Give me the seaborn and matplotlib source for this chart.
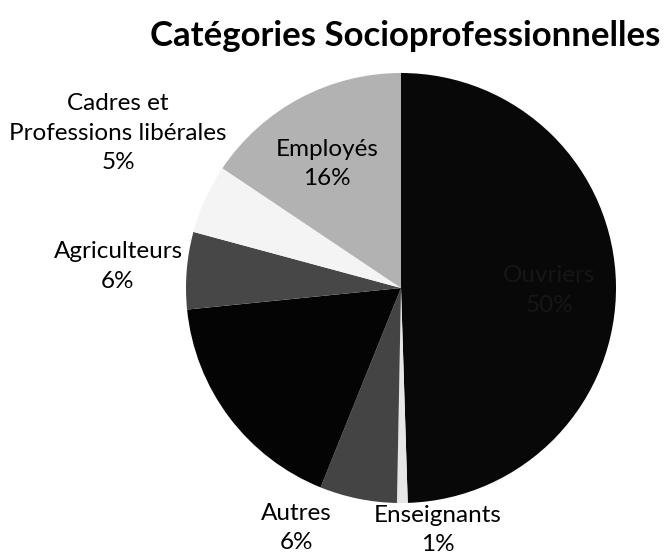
import numpy as np
import seaborn as sns
import matplotlib.pyplot as plt

# Slices, clockwise from 12 o'clock
categories = ['Ouvriers', 'Enseignants', 'Autres', 'Retraités',
              'Agriculteurs', 'Cadres et\nProfessions libérales', 'Employés']
shares = [49.5, 0.8, 5.8, 17.3, 5.8, 5.2, 15.6]
colors = ['#080808', '#e6e6e6', '#444444', '#040404', '#474747', '#f4f4f4', '#b2b2b2']

# label placement: (angle in deg, distance from centre in radii) and text colour
label_pos = [(-1, 0.69, '#161616'), (278.7, 1.139, 'black'), (246.4, 1.218, 'black'),
             (216, 0.65, '#040404'), (175.7, 1.32, 'black'), (151.3, 1.50, 'black'),
             (120.8, 0.672, 'black')]

sns.set_theme(style='white')
plt.rcParams['font.family'] = ['Lato', 'DejaVu Sans']

W, H = 667, 554
fig = plt.figure(figsize=(W / 100, H / 100), dpi=100)
cx, cy, r = 401, 288, 215
ax = fig.add_axes([(cx - r) / W, (H - cy - r) / H, 2 * r / W, 2 * r / H])

wedges, _ = ax.pie(shares, colors=colors, startangle=90, counterclock=False,
                   radius=1, wedgeprops=dict(linewidth=0))
ax.set_xlim(-1, 1)
ax.set_ylim(-1, 1)
ax.set_aspect('equal')
ax.axis('off')

total = sum(shares)
for cat, val, (ang, dist, col) in zip(categories, shares, label_pos):
    pct = f'{val / total * 100:.0f}%'
    x = dist * np.cos(np.radians(ang))
    y = dist * np.sin(np.radians(ang))
    ax.text(x, y, f'{cat}\n{pct}', ha='center', va='center', fontsize=17.5,
            color=col, linespacing=1.5, clip_on=False)

fig.text(0.607, 0.935, 'Catégories Socioprofessionnelles', ha='center', va='center',
         fontsize=25, fontweight='bold', color='black')

fig.savefig('out.png', dpi=100)
